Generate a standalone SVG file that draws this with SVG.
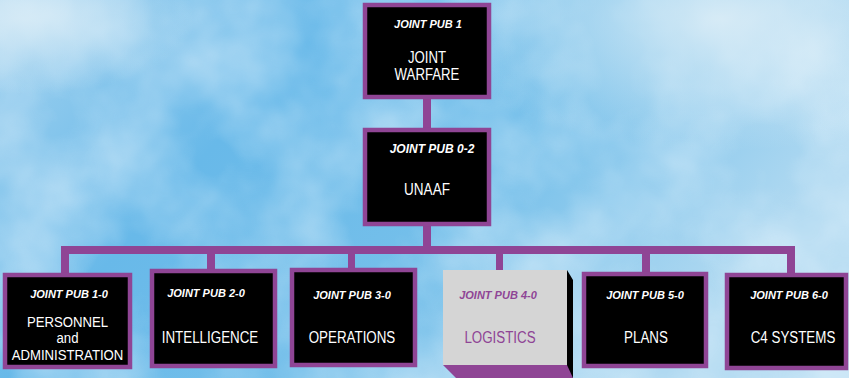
<svg xmlns="http://www.w3.org/2000/svg" width="849" height="378" viewBox="0 0 849 378">
<style>
.box{fill:#000;stroke:#8f4595;stroke-width:4.5}
.con{fill:#8f4595}
.hdr{font-family:"Liberation Sans",Arial,sans-serif;font-size:11px;font-weight:bold;font-style:italic;fill:#fff;text-anchor:middle}
.ttl{font-family:"Liberation Sans",Arial,sans-serif;font-size:16.5px;fill:#fff;text-anchor:middle}
.pur{fill:#8f4595}
</style>
<defs>
<linearGradient id="sky" x1="0" y1="0" x2="1" y2="0.4">
<stop offset="0" stop-color="#a3d2ef"/>
<stop offset="0.35" stop-color="#68b9e9"/>
<stop offset="0.65" stop-color="#74bfea"/>
<stop offset="1" stop-color="#b0d9f1"/>
</linearGradient>
<radialGradient id="lt" cx="0.85" cy="0.05" r="0.35">
<stop offset="0" stop-color="#e0eff7" stop-opacity="0.85"/>
<stop offset="1" stop-color="#e0eff7" stop-opacity="0"/>
</radialGradient>
<radialGradient id="lt2" cx="0.03" cy="0.05" r="0.2">
<stop offset="0" stop-color="#e0eff7" stop-opacity="0.75"/>
<stop offset="1" stop-color="#e0eff7" stop-opacity="0"/>
</radialGradient>
<filter id="clouds" x="0" y="0" width="100%" height="100%">
<feTurbulence type="fractalNoise" baseFrequency="0.009" numOctaves="4" seed="7"/>
<feColorMatrix type="matrix" values="0 0 0 0 0.9  0 0 0 0 0.96  0 0 0 0 1  1.8 0 0 0 -0.6"/>
</filter>
</defs>
<g id="background">
<rect width="849" height="378" fill="url(#sky)"/>
<rect width="849" height="378" fill="#fff" filter="url(#clouds)" opacity="0.5"/>
<rect width="849" height="378" fill="url(#lt)"/>
<rect width="849" height="378" fill="url(#lt2)"/>
</g>
<g id="connectors">
<rect class="con" x="423" y="97" width="8" height="34"/>
<rect class="con" x="423" y="224" width="8" height="24"/>
<rect class="con" x="61" y="246" width="734" height="8"/>
<rect class="con" x="61" y="250" width="8" height="25"/>
<rect class="con" x="207" y="250" width="8" height="21"/>
<rect class="con" x="348" y="250" width="7" height="20"/>
<rect class="con" x="496" y="250" width="7" height="21"/>
<rect class="con" x="642" y="250" width="8" height="24"/>
<rect class="con" x="787" y="250" width="8" height="25"/>
</g>
<g id="jp1">
<rect class="box" x="365" y="5" width="124" height="92"/>
<text class="hdr" x="428" y="28">JOINT PUB 1</text>
<text class="ttl" transform="translate(427 63) scale(0.8 1)"><tspan x="0" y="0">JOINT</tspan><tspan x="0" y="17">WARFARE</tspan></text>
</g>
<g id="jp02">
<rect class="box" x="365" y="130" width="124" height="94"/>
<text class="hdr" x="432" y="153" style="font-size:12px">JOINT PUB 0-2</text>
<text class="ttl" transform="translate(427 195) scale(0.82 1)">UNAAF</text>
</g>
<g id="jp10">
<rect class="box" x="5" y="275" width="125" height="92"/>
<text class="hdr" x="69" y="298">JOINT PUB 1-0</text>
<text class="ttl" style="font-size:15.5px" transform="translate(67.5 327) scale(0.85 1)"><tspan x="0" y="0">PERSONNEL</tspan><tspan x="0" y="16.5">and</tspan><tspan x="0" y="33">ADMINISTRATION</tspan></text>
</g>
<g id="jp20">
<rect class="box" x="152" y="271" width="123" height="95"/>
<text class="hdr" x="206" y="297">JOINT PUB 2-0</text>
<text class="ttl" transform="translate(210 343) scale(0.81 1)">INTELLIGENCE</text>
</g>
<g id="jp30">
<rect class="box" x="292" y="270" width="123" height="95"/>
<text class="hdr" x="352" y="299">JOINT PUB 3-0</text>
<text class="ttl" transform="translate(352 343) scale(0.81 1)">OPERATIONS</text>
</g>
<g id="jp40">
<polygon points="567,270 573,280 573,378 567,378" fill="#000"/>
<polygon points="443,365 567,365 573,378 456,378" fill="#8f4595"/>
<rect x="443" y="270" width="124" height="95" fill="#d5d5d5"/>
<text class="hdr pur" x="498" y="299">JOINT PUB 4-0</text>
<text class="ttl pur" transform="translate(500 343) scale(0.81 1)">LOGISTICS</text>
</g>
<g id="jp50">
<rect class="box" x="584" y="274" width="122" height="92"/>
<text class="hdr" x="645" y="299">JOINT PUB 5-0</text>
<text class="ttl" transform="translate(646 343) scale(0.81 1)">PLANS</text>
</g>
<g id="jp60">
<rect class="box" x="727" y="275" width="119" height="93"/>
<text class="hdr" x="789" y="299">JOINT PUB 6-0</text>
<text class="ttl" transform="translate(793 343) scale(0.81 1)">C4 SYSTEMS</text>
</g>
</svg>
